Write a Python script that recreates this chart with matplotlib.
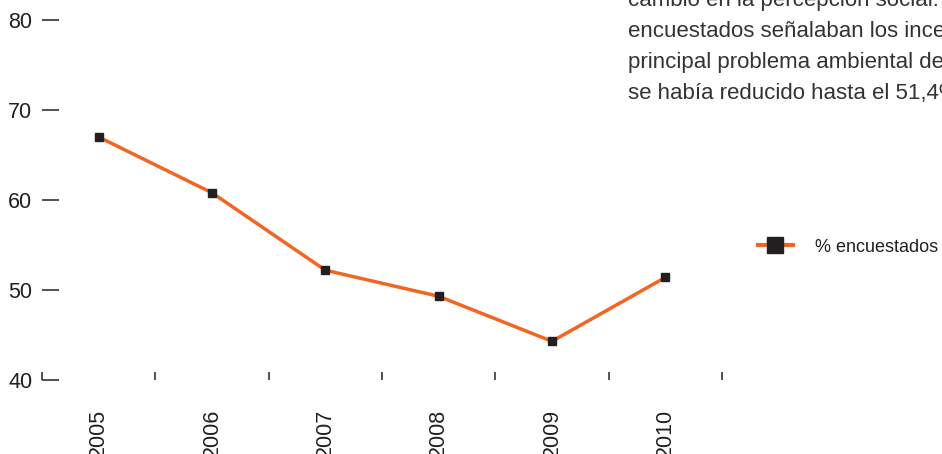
import matplotlib
matplotlib.use('Agg')
from matplotlib import pyplot as plt
from matplotlib.lines import Line2D

years = ['2005', '2006', '2007', '2008', '2009', '2010']
pct_encuestados = [67.0, 60.8, 52.2, 49.3, 44.3, 51.4]
y_ticks = [40, 50, 60, 70, 80]

note_lines = [
    'cambio en la percepción social. En 2005 el 67% de los',
    'encuestados señalaban los incendios como el',
    'principal problema ambiental de España, en 2010',
    'se había reducido hasta el 51,4%.',
]

orange = '#F26522'
dark = '#231F20'

plt.rcParams['font.family'] = ['Liberation Sans', 'DejaVu Sans']

fig = plt.figure(figsize=(9.42, 4.54), dpi=100)
ax = fig.add_axes([42 / 942, 74 / 454, 680 / 942, 360 / 454])

x = list(range(len(years)))
ax.plot(x, pct_encuestados, color=orange, lw=2.5, marker='s', ms=5.8,
        mfc=dark, mec=dark, solid_joinstyle='miter')

ax.set_xlim(-0.5, len(years) - 0.5)
ax.set_ylim(40, 80)
for s in ax.spines.values():
    s.set_visible(False)

# y axis: short inward ticks, labels on the left
ax.set_yticks(y_ticks)
ax.tick_params(axis='y', direction='in', length=12, width=1.1, color=dark,
               pad=7, labelsize=15.5, labelcolor=dark)

# x axis: tick marks between categories, year labels in the middle
ax.set_xticks([i - 0.5 for i in range(len(years) + 1)])
ax.set_xticklabels([])
ax.tick_params(axis='x', which='major', direction='in', length=6, width=1.1, color=dark)
ax.set_xticks(x, minor=True)
ax.set_xticklabels(years, minor=True, rotation=90)
ax.tick_params(axis='x', which='minor', length=0, pad=21, labelsize=15.5, labelcolor=dark)

# legend
handle = Line2D([], [], color=orange, lw=3, marker='s', ms=11, mfc=dark, mec=dark)
fig.legend([handle], ['% encuestados'], loc='center left',
           bbox_to_anchor=(758 / 942, 1 - 247 / 454), frameon=False,
           fontsize=13, handlelength=1.93, handletextpad=1.2,
           borderpad=0, borderaxespad=0, labelcolor=dark)

# note text in the upper right corner
for i, line in enumerate(note_lines):
    fig.text(628 / 942, 1 - (6 + 31 * i) / 454, line, fontsize=16,
             color='#333333', va='baseline', ha='left')

fig.savefig('out.png', dpi=100)
